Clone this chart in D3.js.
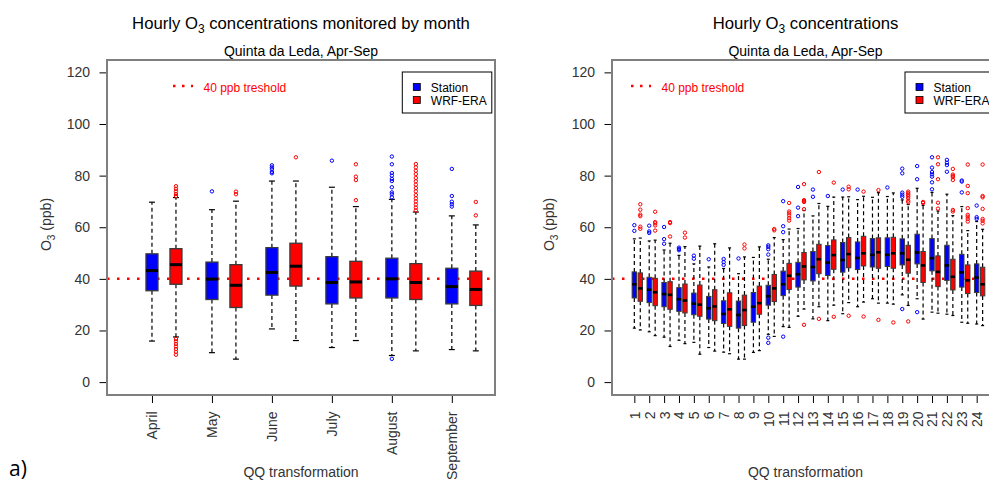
<!DOCTYPE html>
<html>
<head>
<meta charset="utf-8">
<script src="https://cdn.jsdelivr.net/npm/d3@7"></script>
<style>
  body { margin: 0; background: #fff; }
  svg { display: block; }
</style>
</head>
<body>
<svg id="chart" width="989" height="482"></svg>
<script>
// ---- data -------------------------------------------------------------
// Box summaries are [lower whisker, Q1, median, Q3, upper whisker] in ppb.
const months = ["April", "May", "June", "July", "August", "September"];
const monthStation = [
  [15.9, 35.4, 43.2, 49.7, 69.7],
  [11.4, 32.0, 39.9, 46.5, 66.8],
  [20.6, 33.7, 42.5, 52.1, 77.9],
  [13.4, 30.3, 38.6, 48.6, 75.5],
  [10.3, 32.6, 40.0, 48.0, 70.8],
  [12.6, 30.3, 37.0, 44.1, 64.4]
];
const monthWrf = [
  [17.5, 37.9, 45.5, 51.7, 71.5],
  [8.9, 28.9, 37.5, 45.5, 70.1],
  [16.1, 37.2, 44.9, 53.8, 77.9],
  [16.1, 32.6, 38.8, 46.8, 68.0],
  [12.1, 32.0, 38.6, 45.9, 65.9],
  [12.1, 29.7, 35.9, 43.0, 60.9]
];
const monthStationOutliers = [
  [],
  [73.9],
  [84.0, 83.2, 82.5, 81.4, 80.9],
  [85.8],
  [87.4, 84.4, 81.0, 80.0, 78.7, 77.9, 75.5, 73.5, 72.8, 71.6, 9.0],
  [82.6, 72.1, 69.9, 68.9, 68.0]
];
const monthWrfOutliers = [
  [75.9, 74.9, 73.9, 72.9, 72.1, 16.7, 15.8, 14.8, 13.8, 12.8, 11.7, 10.6],
  [73.8, 72.8],
  [87.1],
  [84.4, 79.6, 78.3, 70.5],
  [84.5, 83.2, 81.9, 80.6, 79.1, 77.8, 76.5, 75.2, 73.9, 72.5, 71.2, 70.0, 68.8, 67.6, 66.5],
  [69.8, 64.6]
];

const hours = ["1", "2", "3", "4", "5", "6", "7", "8", "9", "10", "11", "12",
               "13", "14", "15", "16", "17", "18", "19", "20", "21", "22", "23", "24"];
const hourStation = [
  [20.9, 32.6, 37.9, 42.7, 55.5],
  [19.5, 30.8, 35.8, 40.6, 54.7],
  [17.4, 29.2, 34.1, 38.6, 51.2],
  [16.2, 27.4, 32.1, 36.6, 49.1],
  [15.4, 26.1, 30.4, 34.5, 45.8],
  [13.4, 24.4, 28.6, 33.2, 44.6],
  [11.6, 22.7, 26.4, 31.5, 44.0],
  [8.9, 20.9, 26.0, 31.4, 42.0],
  [11.5, 23.2, 29.2, 34.7, 48.3],
  [18.5, 29.8, 33.3, 37.5, 47.6],
  [21.5, 33.5, 37.9, 43.0, 55.2],
  [25.5, 36.8, 41.8, 46.4, 59.5],
  [24.5, 39.2, 44.6, 50.6, 64.4],
  [23.8, 41.3, 46.3, 52.9, 68.1],
  [26.5, 42.6, 47.3, 54.1, 71.7],
  [29.2, 43.6, 48.1, 54.3, 70.7],
  [32.3, 44.6, 49.3, 55.6, 71.6],
  [30.6, 44.8, 49.3, 55.9, 71.9],
  [33.8, 45.4, 49.9, 55.5, 70.6],
  [32.3, 45.8, 50.2, 57.3, 75.1],
  [27.1, 43.1, 48.0, 55.6, 73.5],
  [26.3, 39.4, 45.2, 53.0, 72.8],
  [23.2, 36.8, 42.5, 49.5, 68.0],
  [22.5, 34.7, 40.5, 45.8, 62.2]
];
const hourWrf = [
  [20.2, 31.3, 36.3, 42.3, 55.8],
  [18.0, 29.6, 34.8, 40.2, 55.0],
  [13.8, 28.2, 33.8, 38.9, 53.8],
  [14.9, 26.8, 31.6, 38.0, 52.5],
  [10.8, 25.5, 30.0, 37.6, 52.7],
  [12.0, 23.8, 29.3, 35.8, 53.6],
  [11.0, 21.6, 28.2, 34.6, 52.0],
  [8.9, 21.9, 27.9, 33.7, 48.5],
  [12.2, 26.3, 30.6, 37.2, 52.4],
  [17.7, 31.2, 36.3, 41.7, 56.0],
  [21.2, 35.9, 41.2, 46.0, 59.3],
  [28.3, 39.6, 44.8, 50.2, 66.5],
  [29.2, 42.0, 47.6, 53.4, 69.2],
  [29.8, 43.7, 49.2, 55.1, 71.7],
  [30.8, 44.3, 49.6, 56.0, 71.8],
  [31.0, 45.0, 49.9, 56.5, 72.0],
  [30.6, 44.1, 50.3, 55.9, 73.4],
  [30.2, 44.1, 49.9, 56.1, 73.3],
  [29.7, 42.2, 47.4, 53.0, 68.8],
  [24.4, 38.6, 45.2, 50.6, 68.5],
  [26.7, 37.0, 42.7, 48.9, 66.3],
  [25.8, 35.7, 40.8, 47.6, 64.5],
  [22.8, 34.3, 39.4, 45.4, 58.7],
  [21.9, 33.4, 37.9, 44.5, 59.2]
];
const hourStationOutliers = [
  [60.8, 58.6],
  [60.6, 58.4, 57.8],
  [60.1, 55.4, 53.6],
  [52.1, 51.6, 51.1],
  [49.0, 47.8],
  [47.6],
  [47.7, 46.5, 45.4],
  [47.9],
  [],
  [53.0, 52.4, 51.5, 49.4, 17.2, 15.2],
  [70.1, 60.4, 58.1, 17.6],
  [75.6, 67.6, 64.3],
  [74.6, 71.8],
  [72.1],
  [74.6],
  [74.6],
  [],
  [75.4],
  [82.7, 80.9, 73.4, 72.6, 71.8, 28.3],
  [83.7, 78.6, 27.1],
  [87.1, 83.1, 81.4, 80.5, 79.6, 77.4, 74.7],
  [86.1, 85.0, 84.1, 81.5],
  [78.1, 77.7, 73.5],
  [68.4, 63.9, 63.2]
];
const hourWrfOutliers = [
  [68.9, 66.8, 64.9, 64.3, 60.2, 59.4],
  [66.0, 62.0, 61.5, 60.7, 58.7],
  [62.0, 61.6, 56.4],
  [57.9, 56.0],
  [],
  [],
  [],
  [53.3, 51.8],
  [],
  [59.3, 58.8],
  [69.4, 66.1, 65.4, 64.6, 63.5, 62.6],
  [76.7, 70.5, 70.1, 69.8, 67.0, 22.2],
  [81.4, 24.5],
  [77.3, 25.3],
  [75.7, 74.7, 25.7],
  [73.8, 25.4],
  [74.4, 24.1],
  [23.1],
  [73.8, 73.2, 72.6, 72.0, 71.3, 70.3, 69.7, 23.5],
  [69.8, 69.4],
  [87.1, 84.4, 78.6, 69.5, 67.2],
  [82.6, 80.4, 79.9, 79.4, 78.3, 66.7, 66.1],
  [84.3, 76.0, 73.2, 67.4, 64.8, 64.1, 63.2, 62.2],
  [84.3, 72.1, 71.6, 67.1, 63.2, 62.5, 61.5]
];

const yTicks = [0, 20, 40, 60, 80, 100, 120];
const threshold = 40;
const seriesNames = ["Station", "WRF-ERA"];
const seriesColors = ["#0000ff", "#ff0000"];

// ---- drawing ----------------------------------------------------------
const FONT = "'Liberation Sans', Arial, Helvetica, sans-serif";
const svg = d3.select("#chart").attr("font-family", FONT);

function appendSubscriptText(sel, before, sub, after) {
  sel.append("tspan").text(before);
  sel.append("tspan").attr("font-size", "0.72em").attr("dy", 4).text(sub);
  sel.append("tspan").attr("dy", -4).text(after);
  return sel;
}

function drawPanel(cfg) {
  const f = cfg.frame;
  const g = svg.append("g");
  const x = d3.scaleLinear().domain(cfg.xDomain).range([f.left, f.right]);
  const y = d3.scaleLinear().domain([-5, 124.8]).range([f.bottom, f.top]);
  const groupOffset = 0.4;

  // titles
  appendSubscriptText(
    g.append("text").attr("x", (f.left + f.right) / 2).attr("y", 29)
      .attr("text-anchor", "middle").attr("font-size", 16.7).attr("fill", "#000"),
    "Hourly O", "3", cfg.titleRest);
  g.append("text").attr("x", (f.left + f.right) / 2).attr("y", 55.5)
    .attr("text-anchor", "middle").attr("font-size", 14).attr("fill", "#000")
    .text("Quinta da Leda, Apr-Sep");

  // threshold line
  g.append("line")
    .attr("x1", f.left).attr("x2", f.right)
    .attr("y1", y(threshold)).attr("y2", y(threshold))
    .attr("stroke", "#ff0000").attr("stroke-width", 2.5)
    .attr("stroke-dasharray", "2.5,7.5");

  // boxes
  const series = [
    { stats: cfg.station, outliers: cfg.stationOut, color: seriesColors[0], off: 0 },
    { stats: cfg.wrf, outliers: cfg.wrfOut, color: seriesColors[1], off: groupOffset }
  ];
  series.forEach(s => {
    const bg = g.append("g");
    const items = s.stats.map((d, i) => ({ d, i, cx: x(i + 1 + s.off), out: s.outliers[i] }));
    const item = bg.selectAll("g.box").data(items).join("g").attr("class", "box");
    // whiskers
    item.append("line").attr("x1", d => d.cx).attr("x2", d => d.cx)
      .attr("y1", d => y(d.d[3])).attr("y2", d => y(d.d[4]))
      .attr("stroke", "#000").attr("stroke-width", 1.2).attr("stroke-dasharray", "4,3");
    item.append("line").attr("x1", d => d.cx).attr("x2", d => d.cx)
      .attr("y1", d => y(d.d[1])).attr("y2", d => y(d.d[0]))
      .attr("stroke", "#000").attr("stroke-width", 1.2).attr("stroke-dasharray", "4,3");
    // staples
    [0, 4].forEach(k => {
      item.append("line")
        .attr("x1", d => d.cx - cfg.stapleW / 2).attr("x2", d => d.cx + cfg.stapleW / 2)
        .attr("y1", d => y(d.d[k])).attr("y2", d => y(d.d[k]))
        .attr("stroke", "#000").attr("stroke-width", 1.2);
    });
    // box
    item.append("rect")
      .attr("x", d => d.cx - cfg.boxW / 2).attr("width", cfg.boxW)
      .attr("y", d => y(d.d[3])).attr("height", d => y(d.d[1]) - y(d.d[3]))
      .attr("fill", s.color).attr("stroke", "#3a3a3a").attr("stroke-width", cfg.boxStroke);
    // median
    item.append("line")
      .attr("x1", d => d.cx - cfg.boxW / 2).attr("x2", d => d.cx + cfg.boxW / 2)
      .attr("y1", d => y(d.d[2])).attr("y2", d => y(d.d[2]))
      .attr("stroke", "#000").attr("stroke-width", cfg.medianW);
    // outliers
    item.selectAll("circle").data(d => d.out.map(v => ({ v, cx: d.cx }))).join("circle")
      .attr("cx", o => o.cx).attr("cy", o => y(o.v)).attr("r", 1.7)
      .attr("fill", "none").attr("stroke", s.color).attr("stroke-width", 1);
  });

  // y axis
  const yAxis = g.append("g").attr("transform", `translate(${f.left},0)`)
    .call(d3.axisLeft(y).tickValues(yTicks).tickSize(7.5).tickPadding(9.5));
  yAxis.select(".domain").remove();
  yAxis.selectAll(".tick line").attr("stroke", "#000");
  yAxis.selectAll(".tick text").attr("font-size", 14).attr("font-family", FONT).attr("fill", "#333");

  // x axis with vertical labels
  const xAxis = g.append("g").attr("transform", `translate(0,${f.bottom})`)
    .call(d3.axisBottom(x)
      .tickValues(cfg.categories.map((c, i) => i + 1))
      .tickFormat((v, i) => cfg.categories[i])
      .tickSize(8));
  xAxis.select(".domain").remove();
  xAxis.selectAll(".tick line").attr("stroke", "#000");
  xAxis.selectAll(".tick text")
    .attr("font-size", 14).attr("font-family", FONT).attr("fill", "#333")
    .attr("x", 0).attr("y", 0).attr("dy", "0.35em")
    .attr("text-anchor", "end")
    .attr("transform", "translate(0,16.5) rotate(-90)");

  // plot frame
  g.append("rect")
    .attr("x", f.left).attr("y", f.top)
    .attr("width", f.right - f.left).attr("height", f.bottom - f.top)
    .attr("fill", "none").attr("stroke", "#7f7f7f").attr("stroke-width", 2);

  // axis titles
  appendSubscriptText(
    g.append("text").attr("transform", `translate(${cfg.yLabelX},${(f.top + f.bottom) / 2 - 3}) rotate(-90)`)
      .attr("text-anchor", "middle").attr("font-size", 14).attr("fill", "#333"),
    "O", "3", " (ppb)");
  g.append("text").attr("x", (f.left + f.right) / 2).attr("y", 476.5)
    .attr("text-anchor", "middle").attr("font-size", 14).attr("fill", "#333")
    .text("QQ transformation");

  // threshold legend
  const tl = cfg.thresholdLegend;
  g.append("line").attr("x1", tl.x).attr("x2", tl.x + 20)
    .attr("y1", 86).attr("y2", 86)
    .attr("stroke", "#ff0000").attr("stroke-width", 2.5).attr("stroke-dasharray", "2.5,6.5");
  g.append("text").attr("x", tl.x + 30.5).attr("y", 91.5)
    .attr("font-size", 12).attr("fill", "#ff0000").text(`${threshold} ppb treshold`);

  // series legend
  const lg = g.append("g").attr("transform", `translate(${cfg.legendX},72)`);
  lg.append("rect").attr("width", 89.5).attr("height", 41)
    .attr("fill", "#fff").attr("stroke", "#000").attr("stroke-width", 1);
  seriesNames.forEach((name, i) => {
    lg.append("rect").attr("x", 11).attr("y", 11.5 + i * 13).attr("width", 7).attr("height", 7)
      .attr("fill", seriesColors[i]).attr("stroke", "#000").attr("stroke-width", 0.8);
    lg.append("text").attr("x", 28.5).attr("y", 19.7 + i * 13)
      .attr("font-size", 12).attr("fill", "#000").text(name);
  });
}

drawPanel({
  frame: { left: 107, right: 495, top: 60, bottom: 395 },
  xDomain: [0.25, 6.72],
  categories: months,
  station: monthStation, wrf: monthWrf,
  stationOut: monthStationOutliers, wrfOut: monthWrfOutliers,
  boxW: 12, stapleW: 6, medianW: 3, boxStroke: 1.3,
  titleRest: " concentrations monitored by month",
  yLabelX: 51,
  thresholdLegend: { x: 173 },
  legendX: 402.3
});

drawPanel({
  frame: { left: 612, right: 999, top: 60, bottom: 395 },
  xDomain: [-0.5, 25.5],
  categories: hours,
  station: hourStation, wrf: hourWrf,
  stationOut: hourStationOutliers, wrfOut: hourWrfOutliers,
  boxW: 4.4, stapleW: 3, medianW: 2.6, boxStroke: 1,
  titleRest: " concentrations",
  yLabelX: 553.5,
  thresholdLegend: { x: 631 },
  legendX: 905
});

// panel tag
svg.append("text").attr("x", 9).attr("y", 476)
  .attr("font-family", "'Open Sans', 'Noto Sans', sans-serif")
  .attr("font-size", 21).attr("fill", "#000").text("a)");
</script>
</body>
</html>
